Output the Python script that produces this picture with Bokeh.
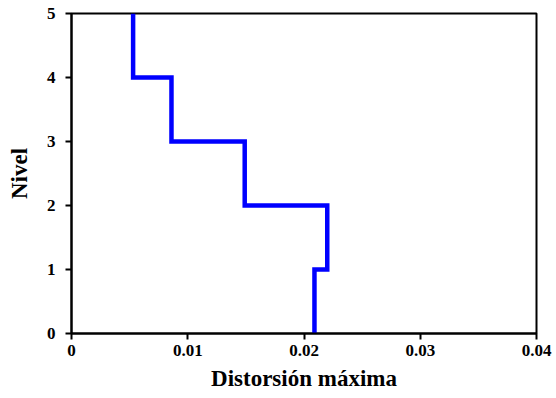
from bokeh.plotting import figure
from bokeh.models import Range1d, FixedTicker
from bokeh.embed import file_html
from bokeh.resources import INLINE

# Maximum inter-storey drift for each storey (storey i spans level i to i+1)
levels = [0, 1, 2, 3, 4, 5]
drift = [0.0209, 0.0220, 0.0149, 0.0086, 0.0053]

x_ticks = [0, 0.01, 0.02, 0.03, 0.04]
x_tick_labels = ["0", "0.01", "0.02", "0.03", "0.04"]
y_ticks = [0, 1, 2, 3, 4, 5]
y_tick_labels = ["0", "1", "2", "3", "4", "5"]

# Build the stepped profile: a vertical segment per storey
xs, ys = [], []
for i, d in enumerate(drift):
    xs += [d, d]
    ys += [levels[i], levels[i + 1]]

p = figure(width=556, height=398, output_backend="svg", toolbar_location=None,
           x_range=Range1d(0, 0.04), y_range=Range1d(0, 5),
           min_border_left=71, min_border_right=20,
           min_border_top=13, min_border_bottom=65)

p.line(xs, ys, line_width=4.5, line_color="#0000FF", line_join="miter")

p.xgrid.visible = False
p.ygrid.visible = False
p.background_fill_color = "white"
p.border_fill_color = "white"
p.outline_line_color = "black"
p.outline_line_width = 2
p.outline_line_alpha = 1

font = "Liberation Serif"
for ax, ticks, labels in ((p.xaxis[0], x_ticks, x_tick_labels),
                          (p.yaxis[0], y_ticks, y_tick_labels)):
    ax.ticker = FixedTicker(ticks=ticks)
    ax.major_label_overrides = {t: l for t, l in zip(ticks, labels)}
    ax.axis_line_color = "black"
    ax.axis_line_width = 2
    ax.major_tick_line_color = "black"
    ax.major_tick_line_width = 2
    ax.major_tick_in = 0
    ax.major_tick_out = 6
    ax.minor_tick_line_color = None
    ax.major_label_text_font = font
    ax.major_label_text_font_style = "bold"
    ax.major_label_text_font_size = "17px"
    ax.major_label_text_color = "black"
    ax.axis_label_text_font = font
    ax.axis_label_text_font_style = "bold"
    ax.axis_label_text_font_size = "23px"
    ax.axis_label_text_color = "black"

p.xaxis.axis_label = "Distorsión máxima"
p.yaxis.axis_label = "Nivel"
p.xaxis.major_label_standoff = 5
p.xaxis.axis_label_standoff = 7
p.yaxis.major_label_standoff = 10
p.yaxis.axis_label_standoff = 12

open("out.html", "w").write(file_html(p, INLINE))
